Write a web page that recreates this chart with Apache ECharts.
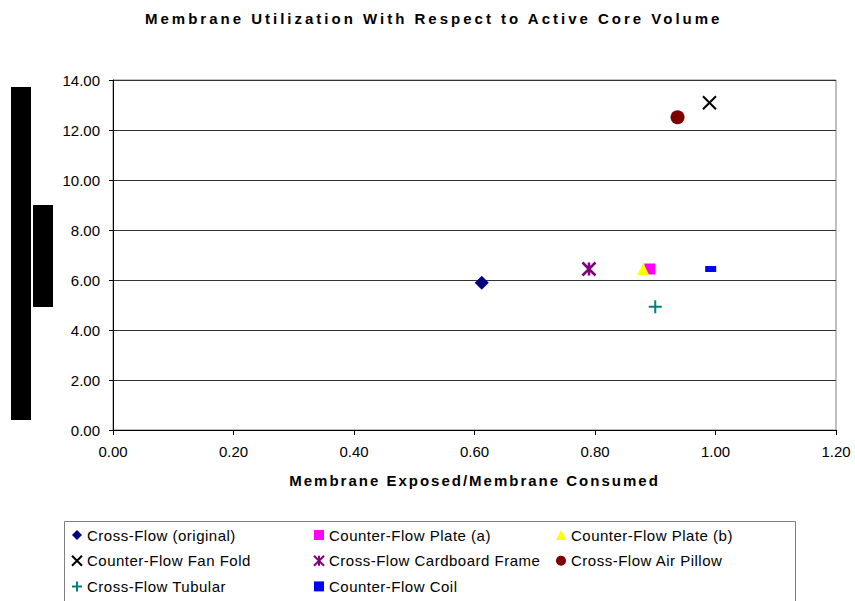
<!DOCTYPE html>
<html><head><meta charset="utf-8">
<script src="https://cdn.jsdelivr.net/npm/echarts@6/dist/echarts.min.js"></script>
<style>html,body{margin:0;padding:0;background:#fff}#c{width:855px;height:601px}</style>
</head><body><div id="c"></div>
<script>
const titleText = 'Membrane Utilization With Respect to Active Core Volume';
const xAxisTitle = 'Membrane Exposed/Membrane Consumed';
const seriesNames = ["Cross-Flow (original)","Counter-Flow Plate (a)","Counter-Flow Plate (b)","Counter-Flow Fan Fold","Cross-Flow Cardboard Frame","Cross-Flow Air Pillow","Cross-Flow Tubular","Counter-Flow Coil"];
const xValues = [0.612, 0.891, 0.880, 0.990, 0.790, 0.937, 0.900, 0.992];
const yValues = [5.89, 6.44, 6.44, 13.09, 6.44, 12.51, 4.93, 6.44];
const xTicks = [0, 0.2, 0.4, 0.6, 0.8, 1.0, 1.2];
const yTicks = [0, 2, 4, 6, 8, 10, 12, 14];

const FONT = 'Liberation Sans, Arial, sans-serif';
const styles = [
  {symbol:'diamond', size:14, item:{color:'#000080'}},
  {symbol:'rect', size:11, item:{color:'#FF00FF'}},
  {symbol:'triangle', size:12, item:{color:'#FFFF00'}},
  {symbol:'path://M0,0L10,10M10,0L0,10', size:13, item:{color:'rgba(0,0,0,0)', borderColor:'#000', borderWidth:2}},
  {symbol:'path://M0,0L10,10M10,0L0,10M5,0L5,10', size:13, item:{color:'rgba(0,0,0,0)', borderColor:'#800080', borderWidth:2.5}},
  {symbol:'circle', size:14, item:{color:'#800000'}},
  {symbol:'path://M5,0L5,10M0,5L10,5', size:13, item:{color:'rgba(0,0,0,0)', borderColor:'#008080', borderWidth:2}},
  {symbol:'rect', size:[11,6], item:{color:'#0000FF'}}
];

const series = seriesNames.map((n,i)=>({
  name:n, type:'scatter', symbol:styles[i].symbol, symbolSize:styles[i].size,
  itemStyle:Object.assign({opacity:1}, styles[i].item), data:[[xValues[i], yValues[i]]], z:3
}));

const cols = [[0,3,6],[1,4,7],[2,5]];
const colX = [71, 313, 556];
const legends = cols.map((c,k)=>({
  orient:'vertical', left:colX[k], top:527, itemGap:9.7, itemWidth:10, itemHeight:10, padding:0,
  data:c.map(i=>seriesNames[i]), selectedMode:false,
  textStyle:{fontFamily:FONT, fontSize:15, lineHeight:16, color:'#000'}
}));

const chart = echarts.init(document.getElementById('c'), null, {renderer:'svg'});
chart.setOption({
  animation:false,
  title:{text:titleText, left:145, top:11, padding:0,
    textStyle:{fontFamily:FONT, fontSize:15, fontWeight:'bold', color:'#000'}},
  grid:{left:113, right:19, top:80, bottom:171, show:true, borderColor:'#808080', borderWidth:1},
  xAxis:{type:'value', min:0, max:1.2, interval:0.2,
    name:xAxisTitle, nameLocation:'middle', nameGap:43,
    nameTextStyle:{fontFamily:FONT, fontSize:15, fontWeight:'bold', color:'#000'},
    axisLine:{onZero:false, lineStyle:{color:'#000'}}, axisTick:{show:true, length:5, lineStyle:{color:'#000'}},
    axisLabel:{formatter:v=>v.toFixed(2), fontFamily:FONT, fontSize:15, color:'#000', margin:14},
    splitLine:{show:false}},
  yAxis:{type:'value', min:0, max:14, interval:2,
    axisLine:{show:true, onZero:false, lineStyle:{color:'#000'}}, axisTick:{show:true, length:4, lineStyle:{color:'#000'}},
    axisLabel:{formatter:v=>v.toFixed(2), fontFamily:FONT, fontSize:15, color:'#000', margin:13},
    splitLine:{show:true, lineStyle:{color:'#333', width:1}}},
  legend:legends,
  graphic:[
    {type:'rect', shape:{x:11, y:87, width:20, height:333}, style:{fill:'#000'}},
    {type:'rect', shape:{x:33, y:205, width:20, height:102}, style:{fill:'#000'}},
    {type:'rect', shape:{x:64.5, y:521.5, width:731, height:100}, style:{fill:'none', stroke:'#808080', lineWidth:1}}
  ],
  series:series
});

function spacing(){
  document.querySelectorAll('#c svg text').forEach(t=>{
    const s = t.textContent;
    if (s === titleText) t.setAttribute('letter-spacing','3');
    else if (s === xAxisTitle) t.setAttribute('letter-spacing','2');
    else if (seriesNames.indexOf(s) >= 0) t.setAttribute('letter-spacing','0.5');
  });
}
spacing();
chart.on('finished', spacing);
setTimeout(spacing, 50);
</script></body></html>
